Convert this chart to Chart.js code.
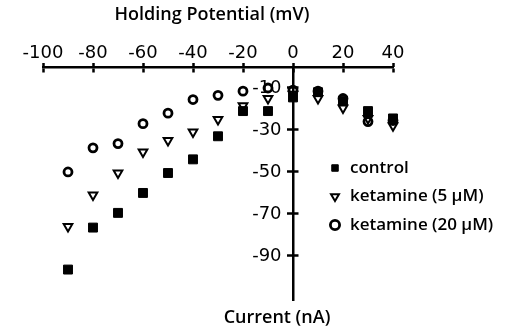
<!DOCTYPE html>
<html>
<head>
<meta charset="utf-8">
<script src="https://cdn.jsdelivr.net/npm/chart.js@4/dist/chart.umd.min.js"></script>
<style>
  html, body { margin: 0; padding: 0; background: #fff; }
  #wrap { width: 512px; height: 334px; }
</style>
</head>
<body>
<div id="wrap"><canvas id="chart"></canvas></div>
<script>
const potentials = [-90, -80, -70, -60, -50, -40, -30, -20, -10, 0, 10, 20, 30, 40];
const control    = [-96.5, -76.5, -69.5, -60, -50.5, -44, -33, -21, -21, -14.5, -12, -16, -21, -24.5];
const ketamine5  = [-76, -61, -50.5, -40.5, -35, -31, -25, -18.5, -15, -13, -15, -19.5, -24.5, -28];
const ketamine20 = [-50, -38.5, -36.5, -27, -22, -15.5, -13.5, -11.5, -10, -11, -11.5, -15, -26, -25.5];
const xTicks = [-100, -80, -60, -40, -20, 0, 20, 40];
const yTicks = [-10, -30, -50, -70, -90];
const xTitle = 'Holding Potential (mV)';
const yTitle = 'Current (nA)';

const toPoints = (ys) => potentials.map((x, i) => ({x: x, y: ys[i]}));

const textFont = {family: '"Open Sans", sans-serif', size: 17, weight: '600'};
const tickFont = {family: '"DejaVu Sans", sans-serif', size: 18};

// axis titles: top one over the x axis, bottom one under the y axis
const axisTitles = {
  id: 'axisTitles',
  afterDraw(chart) {
    const {ctx, scales} = chart;
    ctx.save();
    ctx.font = '600 18px "Open Sans", sans-serif';
    ctx.fillStyle = '#000';
    ctx.textAlign = 'center';
    ctx.textBaseline = 'middle';
    ctx.fillText(xTitle, (scales.x.left + scales.x.right) / 2 - 6, 15);
    ctx.fillText(yTitle, scales.x.getPixelForValue(0) - 16, scales.y.bottom + 18);
    ctx.restore();
  }
};

// legend sits inside the plot, lower right
const placeLegend = {
  id: 'placeLegend',
  beforeDraw(chart) {
    const lg = chart.legend;
    lg.left = 317;
    lg.top = 148;
    lg.right = lg.left + lg.width;
    lg.bottom = lg.top + lg.height;
  }
};

new Chart(document.getElementById('chart'), {
  type: 'scatter',
  data: {
    datasets: [
      {
        label: 'control',
        data: toPoints(control),
        pointStyle: 'rect',
        pointRadius: 6.3,
        backgroundColor: '#000',
        borderColor: '#000',
        borderWidth: 1,
        clip: false
      },
      {
        label: 'ketamine (5 μM)',
        data: toPoints(ketamine5),
        pointStyle: 'triangle',
        rotation: 180,
        pointRadius: 5,
        backgroundColor: 'rgba(0,0,0,0)',
        borderColor: '#000',
        borderWidth: 2,
        clip: false
      },
      {
        label: 'ketamine (20 μM)',
        data: toPoints(ketamine20),
        pointStyle: 'circle',
        pointRadius: 4,
        backgroundColor: 'rgba(0,0,0,0)',
        borderColor: '#000',
        borderWidth: 2.8,
        clip: false
      }
    ]
  },
  options: {
    responsive: true,
    maintainAspectRatio: false,
    animation: false,
    layout: {padding: {left: 43, right: 119, top: 67, bottom: 34}},
    scales: {
      x: {
        type: 'linear',
        min: -100,
        max: 40,
        position: {y: 0},
        afterBuildTicks: (s) => { s.ticks = xTicks.map(v => ({value: v})); },
        grid: {drawOnChartArea: false, tickLength: 4, tickWidth: 2.5, color: '#000'},
        border: {color: '#000', width: 2.5},
        ticks: {color: '#000', font: tickFont, padding: -28, maxRotation: 0, autoSkip: false}
      },
      x2: {
        type: 'linear',
        min: -100,
        max: 40,
        position: {y: 0},
        afterBuildTicks: (s) => { s.ticks = xTicks.map(v => ({value: v})); },
        grid: {drawOnChartArea: false, tickLength: -4, tickWidth: 2.5, color: '#000'},
        border: {display: false},
        ticks: {display: false}
      },
      y: {
        type: 'linear',
        min: -111,
        max: 0,
        position: {x: 0},
        afterBuildTicks: (s) => { s.ticks = yTicks.map(v => ({value: v})); },
        grid: {drawOnChartArea: false, tickLength: 5, tickWidth: 2.5, color: '#000'},
        border: {color: '#000', width: 2.5},
        ticks: {color: '#000', font: tickFont, autoSkip: false, callback: (v) => v + '  '}
      },
      y2: {
        type: 'linear',
        min: -111,
        max: 0,
        position: {x: 0},
        afterBuildTicks: (s) => { s.ticks = yTicks.map(v => ({value: v})); },
        grid: {drawOnChartArea: false, tickLength: -5.5, tickWidth: 2.5, color: '#000'},
        border: {display: false},
        ticks: {display: false}
      }
    },
    plugins: {
      legend: {
        position: 'chartArea',
        align: 'start',
        labels: {
          usePointStyle: true,
          boxWidth: 13,
          boxHeight: 6.5,
          padding: 11.5,
          color: '#000',
          font: textFont
        }
      },
      tooltip: {enabled: false}
    }
  },
  plugins: [axisTitles, placeLegend]
});
</script>
</body>
</html>
